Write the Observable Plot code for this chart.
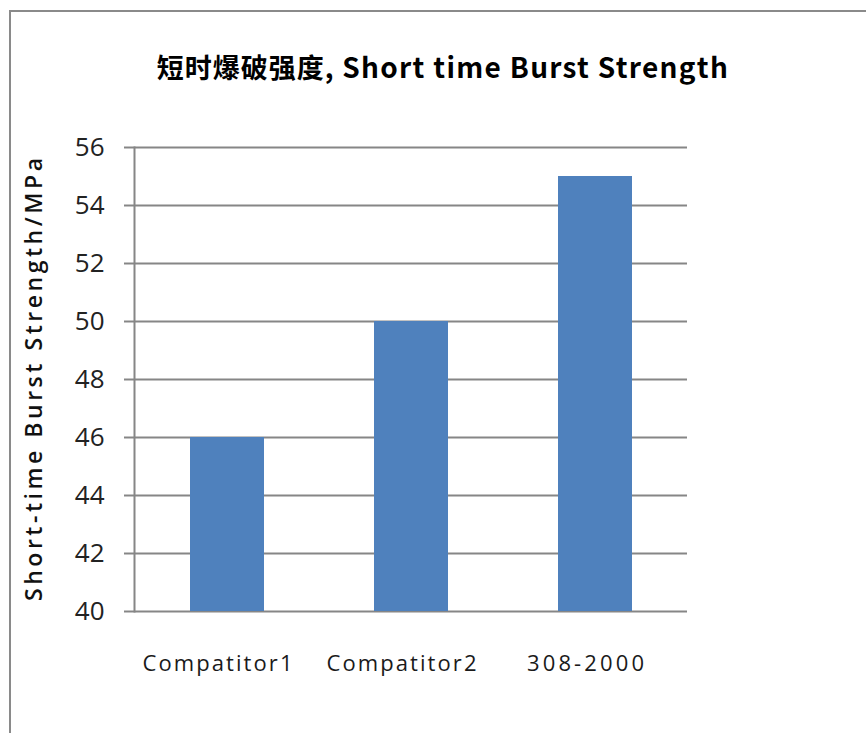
<!DOCTYPE html>
<html>
<head>
<meta charset="utf-8">
<script src="https://cdn.jsdelivr.net/npm/d3@7"></script>
<script src="https://cdn.jsdelivr.net/npm/@observablehq/plot@0.6"></script>
<style>
  html, body { margin: 0; padding: 0; background: #fff; }
  #wrap { position: relative; width: 866px; height: 733px; overflow: hidden; background: #fff; }
  #border { position: absolute; left: 9px; top: 10px; width: 900px; height: 800px;
            border-left: 2px solid #8a8a8a; border-top: 2px solid #8a8a8a; }
  #title { position: absolute; left: 0; width: 886px; top: 47px; text-align: center;
           font-family: "Noto Sans CJK SC", sans-serif; font-weight: bold;
           line-height: 38px; color: #000; white-space: nowrap; }
  #title .zh { font-size: 27px; letter-spacing: 1px; }
  #title .en { font-size: 28px; letter-spacing: 1.3px; }
  #chart { position: absolute; left: 0; top: 0; }
</style>
</head>
<body>
<div id="wrap">
  <div id="border"></div>
  <div id="chart"></div>
  <div id="title"><span class="zh">短时爆破强度,</span><span class="en"> Short time Burst Strength</span></div>
</div>
<script>
// Short-time burst strength per product (MPa)
const categories = ["Compatitor1", "Compatitor2", "308-2000"];
const strength = [46, 50, 55];
const yTicks = [40, 42, 44, 46, 48, 50, 52, 54, 56];
const yLabel = "Short-time Burst Strength/MPa";

const data = categories.map((c, i) => ({category: c, value: strength[i]}));
const gray = "#868686";

const chart = Plot.plot({
  width: 866,
  height: 733,
  marginTop: 147,
  marginBottom: 122,
  marginLeft: 134,
  marginRight: 179,
  style: {background: "transparent", color: "#000"},
  x: {domain: categories, paddingInner: 0.6, paddingOuter: 0.3, label: null},
  y: {domain: [40, 56], label: null},
  marks: [
    Plot.gridY(yTicks, {stroke: gray, strokeOpacity: 1, strokeWidth: 2}),
    Plot.axisY(yTicks, {
      tickSize: 10, stroke: gray, strokeWidth: 2, tickPadding: 20,
      fontSize: 26, fontFamily: "Open Sans", fill: "#222", label: null
    }),
    Plot.frame({anchor: "left", stroke: gray, strokeOpacity: 1, strokeWidth: 2}),
    Plot.barY(data, {x: "category", y1: 40, y2: "value", fill: "#4F81BD"}),
    Plot.axisX(categories, {
      tickSize: 0, tickPadding: 44, fontSize: 22, fontFamily: "Open Sans",
      fill: "#1a1a1a", dx: -10, label: null, className: "xlab"
    }),
    Plot.text([yLabel], {
      frameAnchor: "left", textAnchor: "middle", rotate: -90, dx: -100, fontSize: 23,
      fontFamily: "Open Sans", fontWeight: 600, fill: "#111", className: "ylab"
    })
  ]
});

// widen the axis captions to their printed lengths
d3.select(chart).selectAll(".ylab text")
  .attr("textLength", 443).attr("lengthAdjust", "spacing");
d3.select(chart).selectAll(".xlab text")
  .attr("textLength", function() { return this.textContent.length > 8 ? 150 : 117; })
  .attr("lengthAdjust", "spacing");

document.getElementById("chart").append(chart);
</script>
</body>
</html>
